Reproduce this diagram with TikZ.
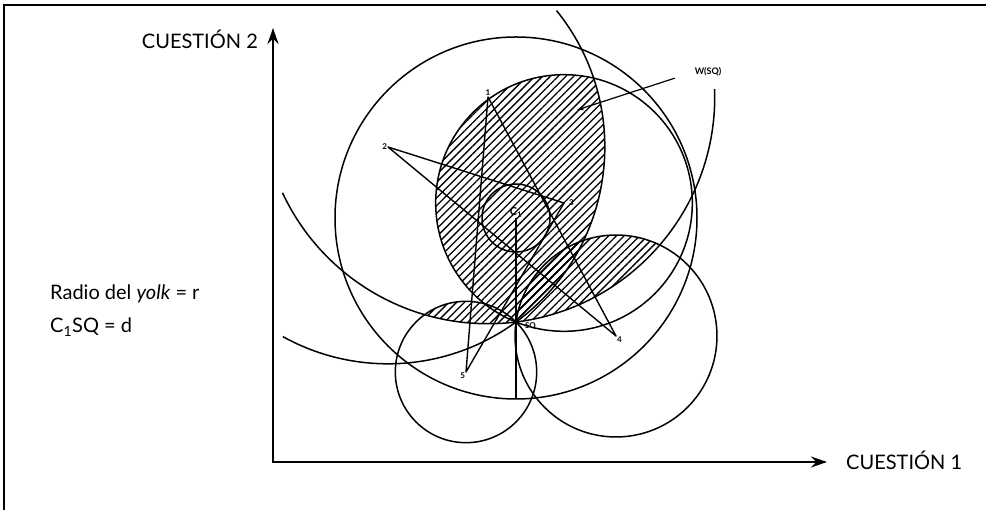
\documentclass[tikz,border=0pt]{standalone}
\usepackage{fontspec}
\setmainfont{Lato}
\usetikzlibrary{arrows.meta,calc,patterns.meta}

\tikzset{
  circ/.style={line width=1.5pt},
  median/.style={line width=1.4pt,line join=round},
  hatch/.style={pattern={Lines[angle=45,distance=5.5pt,line width=1.3pt]}},
  axis/.style={line width=2.2pt,{Stealth[length=16pt,width=11pt]}-{Stealth[length=16pt,width=11pt]}},
  voter/.style={font=\fontsize{8}{8}\selectfont\bfseries,inner sep=0.8pt},
  txt/.style={font=\fontsize{20}{24}\selectfont,inner sep=0pt},
}

\begin{document}
\begin{tikzpicture}[x=1pt,y=1pt]
    \useasboundingbox (0,0) rectangle (986,510);
    % frame
    \draw[line width=2.2pt] (4,0) -- (4,505) -- (986,505);
    % axes
    \coordinate (o) at (273,48);
    \coordinate (ytop) at (273,482);
    \coordinate (xend) at (827,48);
    \draw[axis] (ytop) -- (o) -- (xend);
    \node[txt,anchor=base east] (q2) at (258,461) {CUESTIÓN 2};
    \node[txt,anchor=base west] (q1) at (846,40) {CUESTIÓN 1};
    % legend
    \node[txt,anchor=base west] (radio) at (50,210) {Radio del \textit{yolk} = r};
    \node[txt,anchor=base west] (dist) at (50,177) {C\textsubscript{1}SQ = d};
    % status quo, yolk centre and ideal points
    \coordinate (sq) at (516,188);
    \coordinate (c1) at (516,292);
    \foreach \i/\x/\y in {1/488/413,2/388/363,3/564/307,4/616/174,5/466/138}
        \coordinate (v\i) at (\x,\y);
    % win set: inside at least three indifference circles
    \foreach \a/\b/\c in {1/2/3,1/2/4,1/2/5,1/3/4,1/3/5,1/4/5,2/3/4,2/3/5,2/4/5,3/4/5} {
        \begin{scope}
            \clip let \p1=($(sq)-(v\a)$) in (v\a) circle[radius={veclen(\x1,\y1)}];
            \clip let \p1=($(sq)-(v\b)$) in (v\b) circle[radius={veclen(\x1,\y1)}];
            \fill[hatch] let \p1=($(sq)-(v\c)$) in (v\c) circle[radius={veclen(\x1,\y1)}];
        \end{scope}
    }
    % circles
    \draw[circ] (c1) circle[radius=181];
    \draw[circ] (c1) circle[radius=34];
    \foreach \i in {3,4,5}
        \draw[circ] let \p1=($(sq)-(v\i)$) in (v\i) circle[radius={veclen(\x1,\y1)}];
    \draw[circ] let \p1=($(sq)-(v1)$), \n1={veclen(\x1,\y1)} in
        ($(v1)+(2:\n1)$) arc[start angle=2,end angle=-155,radius=\n1];
    \draw[circ] let \p1=($(sq)-(v2)$), \n1={veclen(\x1,\y1)} in
        ($(v2)+(39:\n1)$) arc[start angle=39,end angle=-119,radius=\n1];
    % radius line through SQ
    \coordinate (cbot) at ($(c1)+(0,-181)$);
    \draw[median] (c1) -- (cbot);
    % median lines
    \draw[median] (v1) -- (v4) -- (v2) -- (v3) -- (v5) -- cycle;
    \fill (sq) circle[radius=2.5];
    % labels
    \node[voter,above] (n1) at (v1) {1};
    \node[voter,left] (n2) at (v2) {2};
    \node[voter,anchor=west] (n3) at ([xshift=4pt]v3) {3};
    \node[voter,anchor=north west] (n4) at (v4) {4};
    \node[voter,anchor=north east] (n5) at (v5) {5};
    \node[voter,anchor=north west] (nsq) at ([xshift=8pt]sq) {SQ};
    \node[font=\fontsize{11}{11}\selectfont\bfseries,inner sep=0.5pt,anchor=south] (nc) at (c1) {C\textsubscript{1}};
    % win set label
    \node[voter,font=\fontsize{9}{9}\selectfont\bfseries] (wsq) at (708,438) {W(SQ)};
    \coordinate (wtip) at (577,400);
    \draw[line width=1.2pt,shorten <=20pt,-{Stealth[length=7pt,width=5pt]}] (wsq.west) -- (wtip);
\end{tikzpicture}
\end{document}
